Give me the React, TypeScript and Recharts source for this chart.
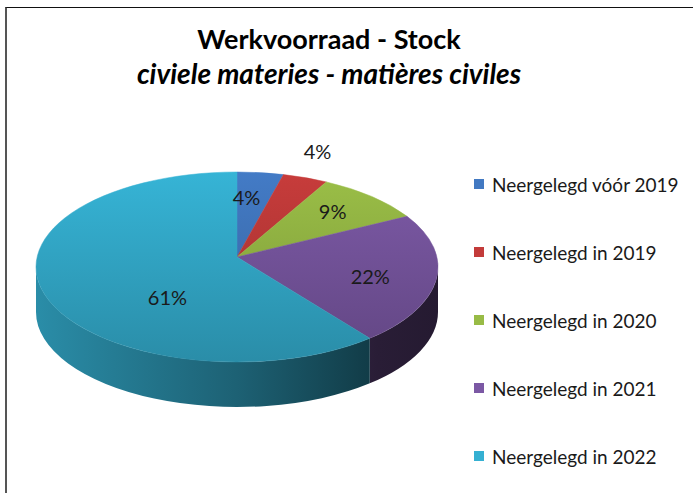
import React from 'react';
import { PieChart, Pie, Cell, Legend } from 'recharts';

const categories = [
  'Neergelegd vóór 2019',
  'Neergelegd in 2019',
  'Neergelegd in 2020',
  'Neergelegd in 2021',
  'Neergelegd in 2022',
];
const shares = [3.7, 3.6, 8.7, 22.4, 61.3];
const colors = ['#4279c2', '#c33b3a', '#98bb46', '#7b58a4', '#35b0d2'];

// label placement as fractions of the ellipse radii (x, y)
const labelFrac = [[0.41, 0.74], [1.18, 1.3], [0.71, 0.8], [0.67, 0.63], [0.37, 0.88]];

const TILT = 0.4726;
const DEPTH = 45;
const APEX_LIFT = 10;
const FONT = 'Lato, "Open Sans", sans-serif';

const data = categories.map((name, i) => ({ name, value: shares[i] }));

const shade = (hex: string, k: number) => {
  const n = parseInt(hex.slice(1), 16);
  const c = [(n >> 16) & 255, (n >> 8) & 255, n & 255].map(v => Math.max(0, Math.min(255, Math.round(v * k))));
  return `rgb(${c[0]},${c[1]},${c[2]})`;
};

const pt = (cx: number, cy: number, rx: number, ry: number, a: number) => {
  const r = (a * Math.PI) / 180;
  return [cx + rx * Math.cos(r), cy - ry * Math.sin(r)];
};

const TopShape = (props: any) => {
  const { cx, cy, outerRadius, startAngle, endAngle, fill } = props;
  const rx = outerRadius;
  const ry = outerRadius * TILT;
  const [x1, y1] = pt(cx, cy, rx, ry, startAngle);
  const [x2, y2] = pt(cx, cy, rx, ry, endAngle);
  const large = Math.abs(startAngle - endAngle) > 180 ? 1 : 0;
  const id = `top-${fill.slice(1)}`;
  return (
    <g>
      <defs>
        <linearGradient id={id} gradientUnits="userSpaceOnUse" x1="0" y1={cy - ry} x2="0" y2={cy + ry}>
          <stop offset="0" stopColor={shade(fill, 1.02)} />
          <stop offset="1" stopColor={shade(fill, 0.8)} />
        </linearGradient>
      </defs>
      <path
        d={`M${cx},${cy - APEX_LIFT} L${x1},${y1} A${rx},${ry} 0 ${large} 1 ${x2},${y2} Z`}
        fill={`url(#${id})`}
        stroke={`url(#${id})`}
        strokeWidth={0.5}
      />
    </g>
  );
};

const WallShape = (props: any) => {
  const { cx, cy, outerRadius, startAngle, endAngle, fill } = props;
  const hi = Math.min(startAngle, 0);
  const lo = Math.max(endAngle, -180);
  if (hi <= lo) return <g />;
  const rx = outerRadius;
  const ry = outerRadius * TILT;
  const [x1, y1] = pt(cx, cy, rx, ry, hi);
  const [x2, y2] = pt(cx, cy, rx, ry, lo);
  const id = `wall-${fill.slice(1)}`;
  return (
    <g>
      <defs>
        <linearGradient id={id} gradientUnits="userSpaceOnUse" x1={cx - rx} y1="0" x2={cx + rx} y2="0">
          <stop offset="0" stopColor={shade(fill, 0.8)} />
          <stop offset="0.5" stopColor={shade(fill, 0.55)} />
          <stop offset="0.85" stopColor={shade(fill, 0.33)} />
          <stop offset="1" stopColor={shade(fill, 0.3)} />
        </linearGradient>
      </defs>
      <path
        d={`M${x1},${y1} A${rx},${ry} 0 0 1 ${x2},${y2} L${x2},${y2 + DEPTH} A${rx},${ry} 0 0 0 ${x1},${y1 + DEPTH} Z`}
        fill={`url(#${id})`}
      />
    </g>
  );
};

const renderLabel = (props: any) => {
  const { cx, cy, outerRadius, midAngle, percent, index } = props;
  const [fx, fy] = labelFrac[index];
  const r = (midAngle * Math.PI) / 180;
  const x = cx + outerRadius * fx * Math.cos(r);
  const y = cy - outerRadius * TILT * fy * Math.sin(r);
  return (
    <text x={x} y={y} textAnchor="middle" dominantBaseline="central" fill="#1a1a1a" fontSize={20} fontFamily={FONT}>
      {`${Math.round(percent * 100)}%`}
    </text>
  );
};

const renderLegend = () => (
  <div style={{ fontFamily: FONT, fontSize: 19, color: '#1a1a1a' }}>
    {categories.map((c, i) => (
      <div key={c} style={{ height: 68, display: 'flex', alignItems: 'center' }}>
        <span style={{ width: 10, height: 10, background: colors[i], marginRight: 8, display: 'inline-block' }} />
        <span>{c}</span>
      </div>
    ))}
  </div>
);

export default function App() {
  return (
    <div style={{ position: 'absolute', left: 0, top: 0, width: 693, height: 493, background: '#fff', overflow: 'hidden' }}>
      <div style={{ position: 'absolute', left: 5, top: 7, width: 700, height: 500, borderTop: '1px solid #111', borderLeft: '2px solid #555' }} />
      <div style={{ position: 'absolute', left: 0, top: 21, width: 658, textAlign: 'center', fontFamily: FONT, fontWeight: 700, color: '#000' }}>
        <div style={{ fontSize: 27, lineHeight: '35px' }}>Werkvoorraad - Stock</div>
        <div style={{ fontSize: 28, lineHeight: '34px', fontStyle: 'italic' }}>civiele materies - matières civiles</div>
      </div>
      <div style={{ position: 'absolute', left: 0, top: 0 }}>
        <PieChart width={693} height={493} margin={{ top: 0, right: 0, bottom: 0, left: 0 }}>
          <Pie
            data={data}
            dataKey="value"
            nameKey="name"
            cx={237}
            cy={267}
            outerRadius={201}
            startAngle={90}
            endAngle={-270}
            isAnimationActive={false}
            legendType="none"
            shape={WallShape}
            activeShape={WallShape}
            inactiveShape={WallShape}
          >
            {data.map((d, i) => <Cell key={d.name} fill={colors[i]} />)}
          </Pie>
          <Pie
            data={data}
            dataKey="value"
            nameKey="name"
            cx={237}
            cy={267}
            outerRadius={201}
            startAngle={90}
            endAngle={-270}
            isAnimationActive={false}
            shape={TopShape}
            activeShape={TopShape}
            inactiveShape={TopShape}
            label={renderLabel}
            labelLine={false}
          >
            {data.map((d, i) => <Cell key={d.name} fill={colors[i]} />)}
          </Pie>
          <Legend
            layout="vertical"
            align="right"
            verticalAlign="top"
            content={renderLegend}
            wrapperStyle={{ left: 474, top: 150, width: 219 }}
          />
        </PieChart>
      </div>
    </div>
  );
}
